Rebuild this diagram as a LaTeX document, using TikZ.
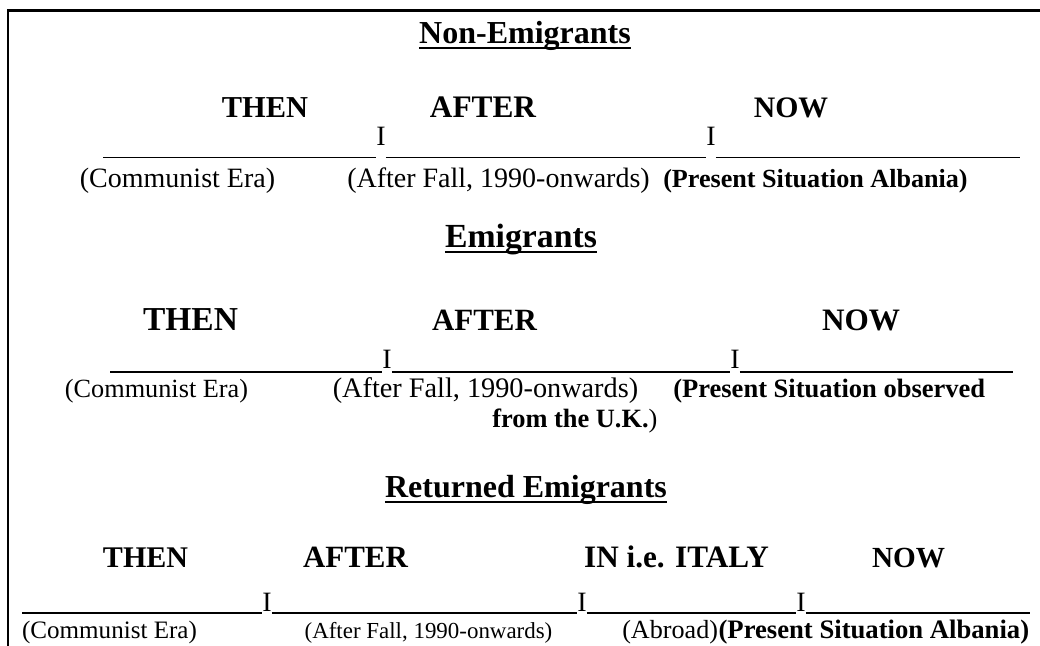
\documentclass[tikz,border=0pt]{standalone}
\usepackage{fontspec}
\setmainfont{Liberation Serif}
\begin{document}
\begin{tikzpicture}[x=0.75pt,y=-0.75pt,
  lbl/.style={inner sep=0pt, anchor=base, font=\fontsize{#1}{#1}\selectfont},
  hd/.style={inner sep=0pt, anchor=base, font=\fontsize{#1}{#1}\selectfont\bfseries},
  barI/.style={inner sep=0pt, anchor=base, font=\fontsize{21}{21}\selectfont},
  tl/.style={line width=1.1pt},
  ul/.style={line width=1.6pt},
  frame/.style={line width=1.9pt}]
\useasboundingbox (0,0) rectangle (1040,646);

% frame: top and left rules only
\coordinate (fbl) at (8,646);
\coordinate (ftl) at (8,10.5);
\coordinate (ftr) at (1040,10.5);
\draw[frame] (fbl) -- (ftl) -- (ftr);

% ---------------- Non-Emigrants ----------------
\node[hd=24] (t1) at (525,43) {Non-Emigrants};
\draw[ul] ([yshift=-3.6pt]t1.base west) -- ([yshift=-3.6pt]t1.base east);
\node[hd=22.8] (h1a) at (265,117) {THEN};
\node[hd=23.5] (h1b) at (483,117) {AFTER};
\node[hd=22.3] (h1c) at (791,117) {NOW};
\node[barI] (i1a) at (381,145) {I};
\node[barI] (i1b) at (711,145) {I};
\coordinate (s1a) at (103,157.5);
\coordinate (s1b) at (1020,157.5);
\draw[tl] (s1a) -- (s1a -| i1a.west);
\draw[tl] (s1a -| i1a.east) -- (s1a -| i1b.west);
\draw[tl] (s1a -| i1b.east) -- (s1b);
\node[lbl=21] (l1a) at (177.5,187) {(Communist Era)};
\node[lbl=21] (l1b) at (498.5,187) {(After Fall, 1990-onwards)};
\node[hd=19.6] (l1c) at (815.5,187) {(Present Situation Albania)};

% ---------------- Emigrants ----------------
\node[hd=25.3] (t2) at (521,247) {Emigrants};
\draw[ul] ([yshift=-3.6pt]t2.base west) -- ([yshift=-3.6pt]t2.base east);
\node[hd=25.1] (h2a) at (190.5,330) {THEN};
\node[hd=23.2] (h2b) at (484.5,330) {AFTER};
\node[hd=23.4] (h2c) at (861,330) {NOW};
\node[barI] (i2a) at (387,368) {I};
\node[barI] (i2b) at (735,368) {I};
\coordinate (s2a) at (110,372);
\coordinate (s2b) at (1013,372);
\draw[tl] (s2a) -- (s2a -| i2a.west);
\draw[tl] (s2a -| i2a.east) -- (s2a -| i2b.west);
\draw[tl] (s2a -| i2b.east) -- (s2b);
\node[lbl=19.7] (l2a) at (156.5,397) {(Communist Era)};
\node[lbl=21.2] (l2b) at (485.5,397) {(After Fall, 1990-onwards)};
\node[hd=19.9, anchor=base west] (l2c) at (673,397) {(Present Situation observed};
\node[lbl=19.8, anchor=base west] (l2d) at (492,427) {\textbf{from the U.K.})};

% ---------------- Returned Emigrants ----------------
\node[hd=24] (t3) at (526,497) {Returned Emigrants};
\draw[ul] ([yshift=-3.6pt]t3.base west) -- ([yshift=-3.6pt]t3.base east);
\node[hd=22.5] (h3a) at (145.5,567) {THEN};
\node[hd=23.2] (h3b) at (355.5,567) {AFTER};
\node[hd=23.4] (h3c) at (676.5,567) {IN i.e. ITALY};
\node[hd=21.9] (h3d) at (908.5,567) {NOW};
\node[barI] (i3a) at (267,611) {I};
\node[barI] (i3b) at (582,611) {I};
\node[barI] (i3c) at (801,611) {I};
\coordinate (s3a) at (22,613);
\coordinate (s3b) at (1030,613);
\draw[tl] (s3a) -- (s3a -| i3a.west);
\draw[tl] (s3a -| i3a.east) -- (s3a -| i3b.west);
\draw[tl] (s3a -| i3b.east) -- (s3a -| i3c.west);
\draw[tl] (s3a -| i3c.east) -- (s3b);
\node[lbl=18.8] (l3a) at (109.5,638) {(Communist Era)};
\node[lbl=17.2] (l3b) at (428.5,638) {(After Fall, 1990-onwards)};
\node[lbl=19.6, anchor=base west] (l3c) at (622,638) {(Abroad)};
\node[hd=20, anchor=base west] (l3d) at (l3c.base east) {(Present Situation Albania)};
\end{tikzpicture}
\end{document}
